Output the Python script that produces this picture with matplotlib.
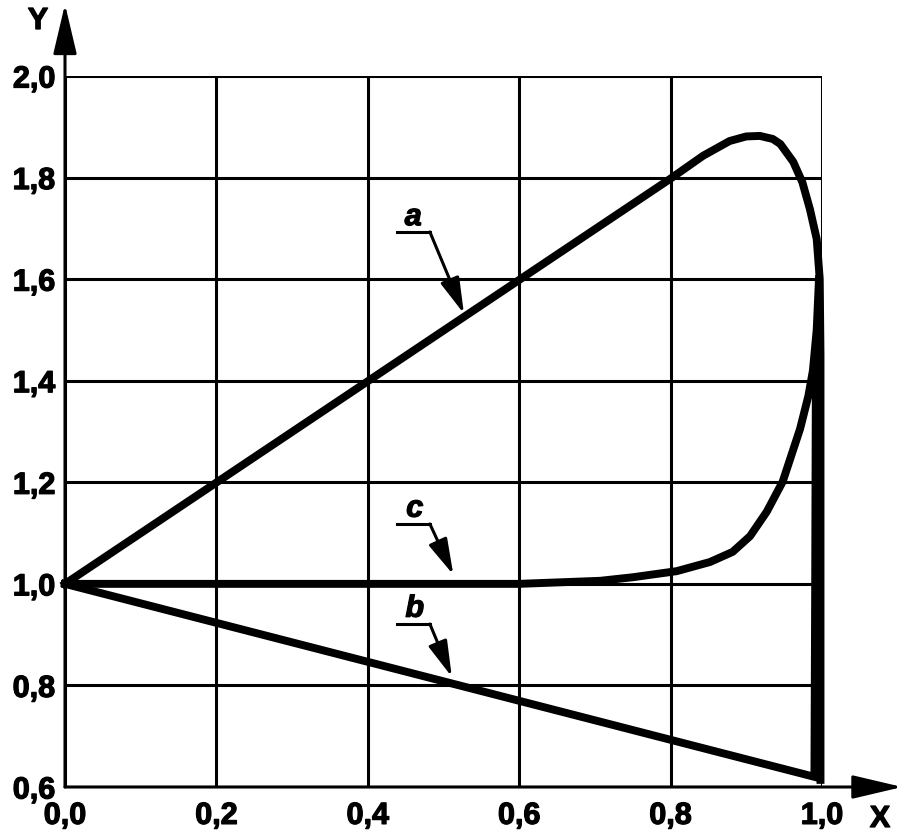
import numpy as np
import matplotlib.pyplot as plt
import matplotlib.patheffects as pe

plt.rcParams["font.family"] = ["Liberation Sans", "DejaVu Sans"]
plt.rcParams["font.weight"] = "bold"

# data
a_x = [0.0, 0.799, 0.843, 0.878, 0.9, 0.918, 0.935, 0.945, 0.962, 0.974, 0.984, 0.993, 0.997, 0.998, 0.998]
a_y = [1.0, 1.797, 1.843, 1.872, 1.881, 1.882, 1.876, 1.866, 1.831, 1.791, 1.738, 1.679, 1.6, 1.45, 0.614]
b_x = [0.0, 0.99, 0.991, 0.992]
b_y = [1.0, 0.62, 1.0, 1.45]
c_x = [0.0, 0.6, 0.707, 0.75, 0.808, 0.852, 0.882, 0.905, 0.927, 0.948, 0.971, 0.982, 0.988, 0.993, 0.996]
c_y = [1.0, 1.0, 1.006, 1.013, 1.025, 1.043, 1.063, 1.094, 1.142, 1.201, 1.305, 1.37, 1.42, 1.5, 1.6]
x_ticks = [0.0, 0.2, 0.4, 0.6, 0.8, 1.0]
y_ticks = [0.6, 0.8, 1.0, 1.2, 1.4, 1.6, 1.8, 2.0]
x_labels = ["0,0", "0,2", "0,4", "0,6", "0,8", "1,0"]
y_labels = ["0,6", "0,8", "1,0", "1,2", "1,4", "1,6", "1,8", "2,0"]

# callouts: label position, leader start/end, arrow tip
callouts = {
    "a": ((0.46, 1.722), (0.4386, 1.693), (0.482, 1.693), (0.527, 1.532)),
    "c": ((0.462, 1.148), (0.4386, 1.118), (0.482, 1.118), (0.513, 1.018)),
    "b": ((0.462, 0.951), (0.4386, 0.921), (0.482, 0.921), (0.511, 0.817)),
}

W, H = 907, 837
fig = plt.figure(figsize=(W / 100, H / 100), dpi=100)
ax = fig.add_axes([65 / W, (H - 788) / H, (822 - 65) / W, (788 - 77) / H])
ax.set_xlim(0, 1.0)
ax.set_ylim(0.6, 2.0)

thick = [pe.withStroke(linewidth=0.9, foreground="black")]

ax.set_xticks(x_ticks)
ax.set_xticklabels(x_labels, fontsize=22, fontweight="bold")
ax.set_yticks(y_ticks)
ax.set_yticklabels(y_labels, fontsize=22, fontweight="bold")
for t in ax.get_xticklabels() + ax.get_yticklabels():
    t.set_path_effects(thick)
ax.tick_params(length=0)
ax.tick_params(axis="x", pad=10)
ax.tick_params(axis="y", pad=7)
ax.grid(True, color="black", linewidth=2.2)
for s in ax.spines.values():
    s.set_visible(False)

lw = 5.7
ax.plot(a_x, a_y, color="black", lw=lw, solid_joinstyle="round", clip_on=False)
ax.plot(b_x, b_y, color="black", lw=lw, solid_joinstyle="miter", clip_on=False)
ax.plot(c_x, c_y, color="black", lw=lw, solid_joinstyle="round", clip_on=False)

# axis arrows
for tip in [(0, 1.101), (1.106, 0)]:
    ax.annotate("", xy=tip, xytext=(0, 0), xycoords="axes fraction",
                arrowprops=dict(arrowstyle="-|>,head_length=1.4,head_width=0.33",
                                mutation_scale=22, lw=2.2, color="black",
                                shrinkA=0, shrinkB=0))
fig.text(38 / W, 1 - 22 / H, "Y", fontsize=22, fontweight="bold", ha="center", va="center",
         path_effects=thick)
fig.text(880 / W, 1 - 820 / H, "X", fontsize=22, fontweight="bold", ha="center", va="center",
         path_effects=thick)

for name, (lab, p0, p1, tip) in callouts.items():
    ax.text(lab[0], lab[1], name, fontsize=22, fontweight="bold", style="italic",
            ha="center", va="center", path_effects=thick)
    ax.plot([p0[0], p1[0]], [p0[1], p1[1]], color="black", lw=2.2)
    ax.annotate("", xy=tip, xytext=p1,
                arrowprops=dict(arrowstyle="-|>,head_length=1.1,head_width=0.3",
                                mutation_scale=20, lw=2.2, color="black",
                                shrinkA=0, shrinkB=0))

fig.savefig("out.png", dpi=100)
